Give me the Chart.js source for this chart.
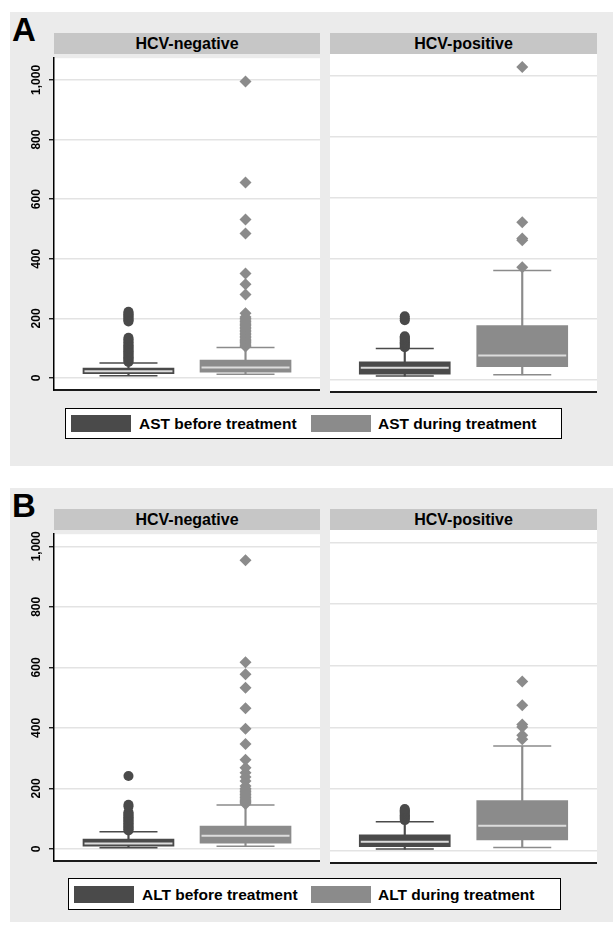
<!DOCTYPE html>
<html>
<head>
<meta charset="utf-8">
<script src="https://cdn.jsdelivr.net/npm/chart.js@4.4.1/dist/chart.umd.min.js"></script>
<style>
  body { margin: 0; width: 613px; height: 928px; background: #fff; position: relative;
         font-family: "Liberation Sans", Arial, Helvetica, sans-serif; overflow: hidden; }
  .bg { position: absolute; left: 10px; width: 603px; background: #ebebeb; }
  .letter { position: absolute; left: 12px; font-size: 33px; line-height: 33px; font-weight: bold; color: #000; }
  .strip { position: absolute; height: 21px; background: #c6c6c6; color: #000; font-weight: bold;
           font-size: 16px; line-height: 21px; text-align: center; }
  canvas { position: absolute; }
  .legend { position: absolute; box-sizing: border-box; background: #fff; border: 1.5px solid #000; }
  .sw { position: absolute; height: 17px; width: 60px; }
  .lt { position: absolute; font-weight: bold; font-size: 15.5px; line-height: 17px; color: #000; white-space: nowrap; }
</style>
</head>
<body>
<div class="bg" style="top:12px;height:454px"></div>
<div class="bg" style="top:488px;height:434px"></div>
<div class="letter" style="top:13px">A</div>
<div class="letter" style="top:489px">B</div>

<canvas id="aNeg" width="310" height="340" style="left:10px;top:54px"></canvas>
<canvas id="aPos" width="267" height="340" style="left:330px;top:54px"></canvas>
<canvas id="bNeg" width="310" height="335" style="left:10px;top:530px"></canvas>
<canvas id="bPos" width="267" height="335" style="left:330px;top:530px"></canvas>

<script>
// facets, groups and tick labels
const facets = ['HCV-negative', 'HCV-positive'];
const groups = ['before treatment', 'during treatment'];
const yTicks = [0, 200, 400, 600, 800, 1000];

// box stats: [lower whisker, q1, median, q3, upper whisker]
const astNegBefore = [8, 15, 23, 33, 50];
const astNegDuring = [13, 20, 35, 60, 102];
const astPosBefore = [13, 19, 40, 60, 104];
const astPosDuring = [17, 44, 81, 179, 360];
const altNegBefore = [4, 9, 18, 33, 57];
const altNegDuring = [9, 19, 44, 76, 145];
const altPosBefore = [6, 14, 30, 52, 95];
const altPosDuring = [11, 36, 82, 163, 340];

// outside values
const astNegBeforeOut = [54, 58, 62, 66, 70, 74, 78, 82, 86, 90, 94, 98, 102, 106, 110, 115, 120, 125, 130, 135,
                         190, 194, 198, 202, 206, 210, 214, 218, 222];
const astNegDuringOut = [106, 110, 114, 118, 122, 126, 130, 135, 140, 145, 150, 155, 160, 165, 170, 175, 180, 185,
                         190, 195, 200, 205, 217, 280, 315, 351, 485, 532, 656, 995];
const astPosBeforeOut = [108, 112, 116, 120, 124, 128, 132, 136, 140, 144, 197, 203, 210];
const astPosDuringOut = [371, 460, 466, 519, 1030];
const altNegBeforeOut = [61, 65, 69, 73, 77, 81, 85, 89, 93, 97, 101, 105, 109, 113, 117, 121, 140, 146, 241];
const altNegDuringOut = [149, 153, 157, 161, 165, 170, 175, 180, 185, 190, 195, 200, 208, 225, 238, 252, 268, 295,
                         347, 397, 465, 533, 577, 617, 954];
const altPosBeforeOut = [100, 104, 108, 112, 116, 120, 124, 128, 132, 136];
const altPosDuringOut = [362, 375, 402, 410, 472, 549];

const DARK = '#4a4a4a';
const LIGHT = '#8b8b8b';
const MED = '#dcdcdc';
const FONT = '"Liberation Sans", Arial, Helvetica, sans-serif';
const P1 = 0.28, P2 = 0.72;

// strips + legends
[33, 509].forEach(top => {
  [[54, 266], [330, 267]].forEach(([left, w], i) => {
    const d = document.createElement('div');
    d.className = 'strip';
    d.style.cssText = `left:${left}px;top:${top}px;width:${w}px`;
    d.textContent = facets[i];
    document.body.appendChild(d);
  });
});

function legend(prefix, box, swY, swX, txX) {
  const lg = document.createElement('div');
  lg.className = 'legend';
  lg.style.cssText = `left:${box[0]}px;top:${box[1]}px;width:${box[2]}px;height:${box[3]}px`;
  document.body.appendChild(lg);
  [DARK, LIGHT].forEach((c, i) => {
    const s = document.createElement('div');
    s.className = 'sw';
    s.style.cssText = `left:${swX[i]}px;top:${swY}px;background:${c}`;
    document.body.appendChild(s);
    const t = document.createElement('div');
    t.className = 'lt';
    t.style.cssText = `left:${txX[i]}px;top:${swY}px`;
    t.textContent = prefix + ' ' + groups[i];
    document.body.appendChild(t);
  });
}
legend('AST', [65, 408, 497, 31], 415, [71, 311], [139, 378]);
legend('ALT', [68, 878, 493, 32], 886, [74, 311], [142, 378]);

const whiteArea = {
  id: 'whiteArea',
  beforeDraw(chart) {
    const a = chart.chartArea, ctx = chart.ctx;
    ctx.save();
    ctx.fillStyle = '#fff';
    ctx.fillRect(a.left, a.top, a.right - a.left, a.bottom - a.top);
    ctx.restore();
  }
};

function boxChart(id, before, during, beforeOut, duringOut, yMin, yMax, showAxis) {
  new Chart(document.getElementById(id), {
    type: 'bar',
    data: {
      datasets: [
        {
          type: 'scatter', order: 0,
          data: [{x: P1, y: before[2]}, {x: P2, y: during[2]}],
          pointStyle: 'line', pointRadius: 44, pointBorderColor: MED, pointBorderWidth: 2
        },
        {
          type: 'scatter', order: 1,
          data: beforeOut.map(v => ({x: P1, y: v})),
          pointStyle: 'circle', pointRadius: 5, pointBackgroundColor: DARK, pointBorderWidth: 0
        },
        {
          type: 'scatter', order: 1,
          data: duringOut.map(v => ({x: P2, y: v})),
          pointStyle: 'rectRot', pointRadius: 6, pointBackgroundColor: LIGHT, pointBorderWidth: 0
        },
        {
          type: 'scatter', order: 1,
          data: [{x: P1, y: before[0]}, {x: P1, y: before[4]}, {x: P2, y: during[0]}, {x: P2, y: during[4]}],
          pointStyle: 'line', pointRadius: 29, pointBorderWidth: 1.5,
          pointBorderColor: [DARK, DARK, LIGHT, LIGHT]
        },
        {
          type: 'bar', order: 2, grouped: false, barThickness: 91,
          data: [{x: P1, y: [before[1], before[3]]}, {x: P2, y: [during[1], during[3]]}],
          backgroundColor: [DARK, LIGHT], borderWidth: 0
        },
        {
          type: 'bar', order: 3, grouped: false, barThickness: 1.5,
          data: [{x: P1, y: [before[0], before[4]]}, {x: P2, y: [during[0], during[4]]}],
          backgroundColor: [DARK, LIGHT], borderWidth: 0
        }
      ]
    },
    options: {
      responsive: false,
      animation: false,
      events: [],
      layout: { padding: 0, autoPadding: false },
      plugins: { legend: { display: false }, tooltip: { enabled: false } },
      scales: {
        x: {
          type: 'linear', min: 0, max: 1, offset: false,
          ticks: { display: false },
          grid: { display: false, drawTicks: false },
          border: { display: true, color: '#1a1a1a', width: 2 },
          afterFit: s => { s.height = 2; }
        },
        y: {
          type: 'linear', min: yMin, max: yMax,
          afterBuildTicks: s => { s.ticks = yTicks.map(v => ({value: v})); },
          ticks: {
            display: showAxis, minRotation: 90, maxRotation: 90, crossAlign: 'center', padding: -3,
            color: '#000', font: { family: FONT, size: 12, weight: 'bold' },
            callback: v => v.toLocaleString('en-US')
          },
          grid: { color: '#e3e3e3', lineWidth: 1.5, drawTicks: showAxis, tickLength: 5, tickColor: '#000', tickWidth: 1.2 },
          border: { display: showAxis, color: '#000', width: 1.5 },
          afterFit: s => { s.width = showAxis ? 44 : 0; }
        }
      }
    },
    plugins: [whiteArea]
  });
}

boxChart('aNeg', astNegBefore, astNegDuring, astNegBeforeOut, astNegDuringOut, -39.5, 1073, true);
boxChart('aPos', astPosBefore, astPosDuring, astPosBeforeOut, astPosDuringOut, -39.5, 1073, false);
boxChart('bNeg', altNegBefore, altNegDuring, altNegBeforeOut, altNegDuringOut, -39, 1040, true);
boxChart('bPos', altPosBefore, altPosDuring, altPosBeforeOut, altPosDuringOut, -39, 1040, false);
</script>
</body>
</html>
